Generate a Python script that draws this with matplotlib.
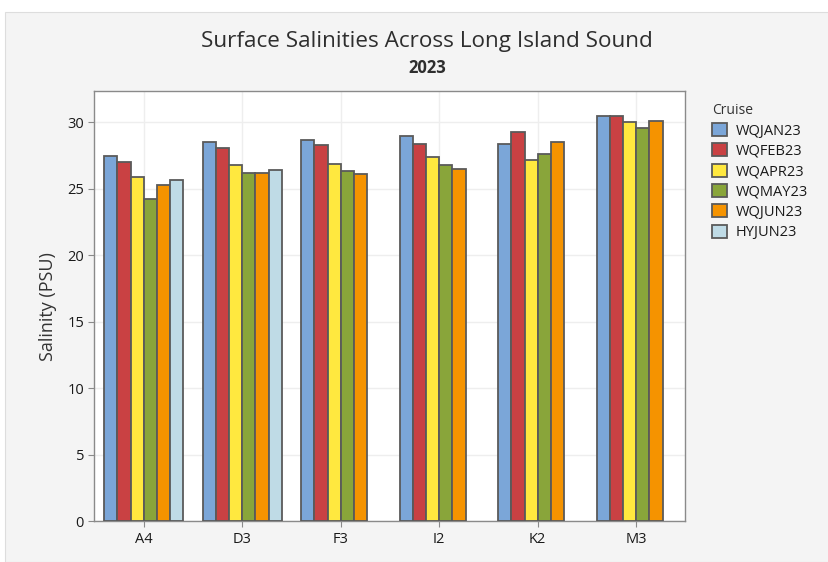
import numpy as np
import matplotlib
matplotlib.use('Agg')
import matplotlib.pyplot as plt
from matplotlib.patches import Rectangle

plt.rcParams['font.family'] = ['Open Sans', 'DejaVu Sans']

stations = ['A4', 'D3', 'F3', 'I2', 'K2', 'M3']
cruises = ['WQJAN23', 'WQFEB23', 'WQAPR23', 'WQMAY23', 'WQJUN23', 'HYJUN23']
wqjan23 = [27.5, 28.5, 28.7, 28.95, 28.4, 30.5]
wqfeb23 = [27.0, 28.05, 28.3, 28.4, 29.25, 30.5]
wqapr23 = [25.85, 26.75, 26.85, 27.4, 27.15, 30.0]
wqmay23 = [24.2, 26.2, 26.3, 26.75, 27.6, 29.6]
wqjun23 = [25.3, 26.2, 26.1, 26.5, 28.5, 30.1]
hyjun23 = [25.65, 26.4, np.nan, np.nan, np.nan, np.nan]
series = [wqjan23, wqfeb23, wqapr23, wqmay23, wqjun23, hyjun23]
colors = ['#7BA6D8', '#C94143', '#FFE83F', '#89A53A', '#F59300', '#BFDBE6']

fig = plt.figure(figsize=(8.29, 5.62), dpi=100, facecolor='white')
fig.patches.append(Rectangle((5 / 829, 0), 1, 1 - 12 / 562, transform=fig.transFigure,
                             facecolor='#f4f4f4', edgecolor='#dddddd', lw=0.8, zorder=-10))

ax = fig.add_axes([94.5 / 829, (562 - 521.3) / 562, 591 / 829, 430.3 / 562])
ax.set_facecolor('white')

x = np.arange(len(stations))
w = 0.134
for i, (vals, c, name) in enumerate(zip(series, colors, cruises)):
    ax.bar(x + (i - 2.5) * w, vals, w, color=c, edgecolor='#5a5a5a', linewidth=1.3,
           label=name, zorder=3)

ax.set_xlim(-0.5, 5.5)
ax.set_ylim(0, 32.35)
ax.set_xticks(x)
ax.set_xticklabels(stations)
ax.set_yticks(np.arange(0, 31, 5))
ax.grid(True, color='#eeeeee', lw=1, zorder=0)
for s in ax.spines.values():
    s.set_color('#8a8a8a')
    s.set_linewidth(1)
ax.tick_params(colors='#8a8a8a', labelcolor='#1a1a1a', labelsize=10.5, length=4)
ax.set_ylabel('Salinity (PSU)', fontsize=13, color='#333333', labelpad=7)

fig.text(427 / 829, 1 - 42 / 562, 'Surface Salinities Across Long Island Sound',
         ha='center', va='center', fontsize=16.2, color='#2e2e2e')
fig.text(427 / 829, 1 - 68 / 562, '2023', ha='center', va='center', fontsize=12,
         fontweight='bold', color='#2e2e2e')

leg = ax.legend(loc='upper left', bbox_to_anchor=(702 / 829, 1 - 93 / 562),
                bbox_transform=fig.transFigure, frameon=False, title='Cruise',
                fontsize=10.5, title_fontsize=10, handlelength=1.0, handleheight=1.0,
                labelspacing=0.33, handletextpad=0.6, alignment='left', borderpad=0.2)
for t in leg.get_texts():
    t.set_color('#1a1a1a')
leg.get_title().set_color('#333333')

fig.savefig('out.png', dpi=100, facecolor=fig.get_facecolor())
